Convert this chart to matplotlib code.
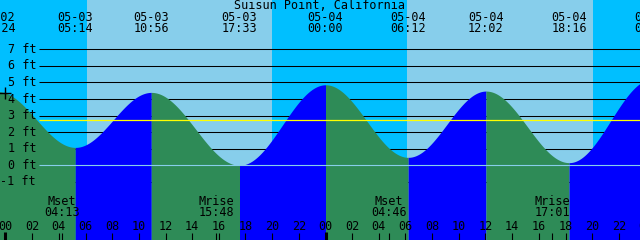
import numpy as np
import matplotlib
matplotlib.use('Agg')
import matplotlib.pyplot as plt

# tide extremes (hours from 05-03 00:00)
tide_t = [-0.6, 5.233, 10.933, 17.55, 24.0, 30.2, 36.033, 42.267, 48.5]
tide_ft = [4.45, 1.08, 4.40, 0.0, 4.86, 0.48, 4.48, 0.16, 5.2]
tide_date = ['05-02', '05-03', '05-03', '05-03', '05-04', '05-04', '05-04', '05-04', '05-05']
tide_clock = ['23:24', '05:14', '10:56', '17:33', '00:00', '06:12', '12:02', '18:16', '00:30']

# sun and moon
sunrise = [6.11, 30.11]
sunset = [19.97, 44.09]
moon_t = [4.217, 15.8, 28.767, 41.017]
moon_lbl = ['Mset', 'Mrise', 'Mset', 'Mrise']
moon_clock = ['04:13', '15:48', '04:46', '17:01']

ft_levels = [-1, 0, 1, 2, 3, 4, 5, 6, 7]
mean_ft = 2.71
now_t, now_ft = -0.04, 4.36

NIGHT = '#00bfff'
DAY = '#87ceeb'
FALL = '#2e8b57'
RISE = '#0000ff'

# pixel helpers: 13.33 px per hour, 16.57 px per foot
def px_t(x):
    return (x - 5.5) / (640 / 48)

def px_ft(y):
    return (165.3 - y) / 16.57

fig = plt.figure(figsize=(6.4, 2.4), dpi=100)
ax = fig.add_axes([0, 0, 1, 1])
ax.set_xlim(px_t(0), px_t(640))
ax.set_ylim(px_ft(240), px_ft(0))
ax.axis('off')

# sky
ax.axvspan(px_t(0), px_t(640), color=NIGHT, zorder=0, lw=0)
for r, s in zip(sunrise, sunset):
    ax.axvspan(r, s, color=DAY, zorder=0.5, lw=0)

# grid lines behind water
x0 = px_t(39)
for lv in ft_levels:
    if lv != 0:
        ax.hlines(lv, x0, px_t(640), color='black', lw=0.75, zorder=1)

# water: cosine between extremes, green falling, blue rising
for i in range(len(tide_t) - 1):
    t0, t1 = tide_t[i], tide_t[i + 1]
    l0, l1 = tide_ft[i], tide_ft[i + 1]
    tt = np.linspace(t0, t1, 300)
    lv = l1 + (l0 - l1) * (1 + np.cos(np.pi * (tt - t0) / (t1 - t0))) / 2
    ax.fill_between(tt, px_ft(245), lv, color=FALL if l0 > l1 else RISE, lw=0, zorder=2)

ax.hlines(0, x0, px_t(640), color=DAY, lw=0.8, zorder=3)
ax.hlines(mean_ft, x0, px_t(640), color='yellow', lw=0.9, zorder=3)

font = dict(family='DejaVu Sans Mono', fontsize=8.5, color='black', zorder=5)

# ft labels
for lv in ft_levels:
    ax.text(px_t(36), lv, f'{lv} ft', ha='right', va='center', **font)

ax.plot(now_t, now_ft, marker='+', color='black', ms=8, mew=1, zorder=6)

# header
ax.text(0.5, px_ft(5.5), 'Suisun Point, California', transform=ax.get_yaxis_transform(),
        ha='center', va='center', **font)
for t, d, c in zip(tide_t, tide_date, tide_clock):
    ax.text(t, px_ft(17.5), d, ha='center', va='center', **font)
    ax.text(t, px_ft(29), c, ha='center', va='center', **font)

# moon
for t, l, c in zip(moon_t, moon_lbl, moon_clock):
    ax.text(t, px_ft(201.5), l, ha='center', va='center', **font)
    ax.text(t, px_ft(213), c, ha='center', va='center', **font)
    ax.vlines(t, px_ft(240), px_ft(233), color='black', lw=0.8, zorder=5)

# hour axis
for h in range(0, 49, 2):
    ax.text(h, px_ft(226), f'{h % 24:02d}', ha='center', va='center', **font)
    if h % 24 == 0:
        ax.vlines(h, px_ft(240), px_ft(231.5), color='black', lw=2.2, zorder=5)
    else:
        ax.vlines(h, px_ft(240), px_ft(233), color='black', lw=0.8, zorder=5)

fig.savefig('out.png', dpi=100)
